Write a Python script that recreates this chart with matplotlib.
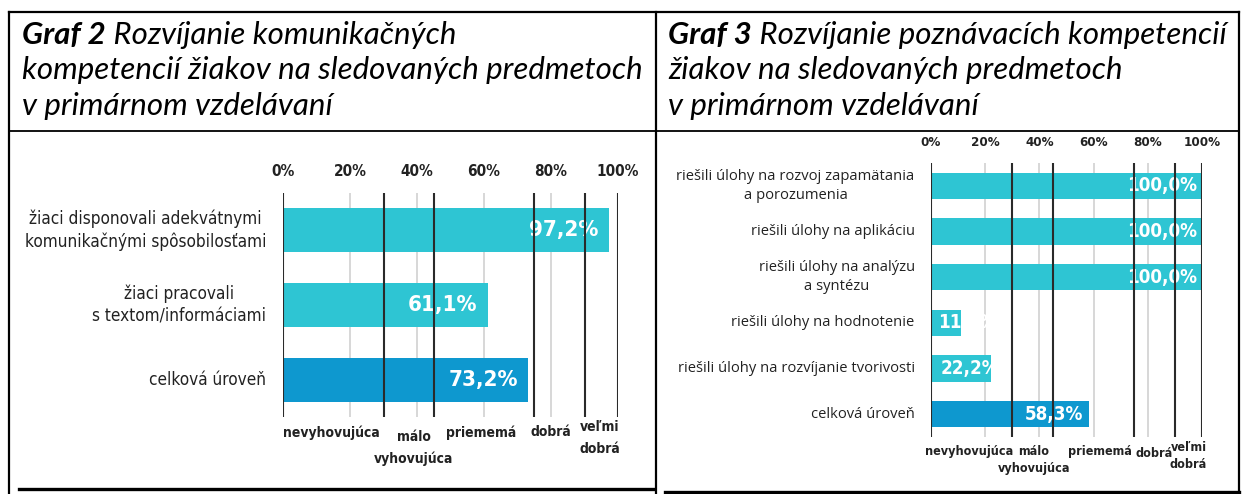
import matplotlib
matplotlib.use("Agg")
import matplotlib.pyplot as plt
from matplotlib.lines import Line2D

#----- Data -----
titles_bold = [ "Graf 2", "Graf 3" ]
titles_lines = [
	[ " Rozvíjanie komunikačných", "kompetencií žiakov na sledovaných predmetoch", "v primárnom vzdelávaní" ],
	[ " Rozvíjanie poznávacích kompetencií", "žiakov na sledovaných predmetoch", "v primárnom vzdelávaní" ],
]

left_categories = [ "žiaci disponovali adekvátnymi\nkomunikačnými spôsobilosťami",
					"žiaci pracovali\ns textom/informáciami",
					"celková úroveň" ]
left_values = [ 97.2, 61.1, 73.2 ]

right_categories = [ "riešili úlohy na rozvoj zapamätania\na porozumenia",
					 "riešili úlohy na aplikáciu",
					 "riešili úlohy na analýzu\na syntézu",
					 "riešili úlohy na hodnotenie",
					 "riešili úlohy na rozvíjanie tvorivosti",
					 "celková úroveň" ]
right_values = [ 100.0, 100.0, 100.0, 11.1, 22.2, 58.3 ]

tick_values = [ 0, 20, 40, 60, 80, 100 ]
grid_values = [ 20, 40, 60, 80 ]
band_edges = [ 0, 30, 45, 75, 90, 100 ]
band_labels = [ "nevyhovujúca", "málo\nvyhovujúca", "priememá", "dobrá", "veľmi\ndobrá" ]

#----- Style -----
W, H = 1255, 494
c_light = "#2ec5d3"
c_dark = "#0e98cf"
narrow = [ "DejaVu Sans" ]
title_font = [ "Lato", "DejaVu Sans" ]

fig = plt.figure( figsize=(W/100, H/100), dpi=100 )
renderer = fig.canvas.get_renderer()


def px_axes( x0, y0, x1, y1 ):
	# pixel box (top-left origin) -> figure axes
	return fig.add_axes( [ x0/W, 1 - y1/H, (x1-x0)/W, (y1-y0)/H ] )


def draw_chart( ax, cats, vals, bar_h, cat_fs, cat_font, cat_stretch, val_fs, tick_fs, band_fs,
				band_dx, band_dy, band_gap, val_pad, cat_x ):
	n = len( vals )
	colors = [ c_light ]*(n-1) + [ c_dark ]
	ax.set_xlim( 0, 100 )
	ax.set_ylim( n - 0.5, -0.5 )
	for g in grid_values:
		ax.axvline( g, color="#d4d4d4", lw=1.3, zorder=1 )
	ax.barh( range(n), vals, height=bar_h, color=colors, zorder=2 )
	for e in band_edges:
		ax.axvline( e, color="#2a2a2a", lw=1.5, zorder=4 )
	for i, v in enumerate( vals ):
		lbl = ("%.1f%%" % v).replace( ".", "," )
		if v < 30:
			ax.text( 2.5 if v < 15 else 3.5, i, lbl, ha="left", va="center", color="white", fontsize=val_fs,
					 fontweight="bold", family=narrow, fontstretch="condensed", zorder=3 )
		else:
			ax.text( v - val_pad, i, lbl, ha="right", va="center", color="white", fontsize=val_fs,
					 fontweight="bold", family=narrow, fontstretch="condensed", zorder=3 )
		ax.text( cat_x, i, cats[i], ha="right", va="center", multialignment="center",
				 fontsize=cat_fs, family=cat_font, fontstretch=cat_stretch, color="#222222",
				 linespacing=1.35, transform=ax.get_yaxis_transform() )
	ax.xaxis.tick_top()
	ax.set_xticks( tick_values )
	ax.set_xticklabels( [ "%d%%" % t for t in tick_values ], fontsize=tick_fs,
						fontweight="bold", family=narrow, fontstretch="condensed", color="#222222" )
	ax.tick_params( axis="x", length=0, pad=10 )
	ax.set_yticks( [] )
	for s in ax.spines.values():
		s.set_visible( False )
	# grade bands under the axis, one text per line
	for j, lbl in enumerate( band_labels ):
		mid = ( band_edges[j] + band_edges[j+1] ) / 2 + band_dx[j]
		for m, part in enumerate( lbl.split( "\n" ) ):
			ax.text( mid, band_dy[j] - m*band_gap, part, ha="center", va="top", fontsize=band_fs,
					 fontweight="bold", family=narrow, fontstretch="condensed", color="#222222",
					 transform=ax.get_xaxis_transform() )


#----- Left chart -----
axL = px_axes( 283, 193, 618, 417 )
draw_chart( axL, left_categories, left_values, 0.59, 12.3, narrow, "condensed", 16, 11, 10,
			[ -0.5, 1.5, -1, -2.5, -0.5 ], [ -0.04, -0.06, -0.04, -0.035, -0.015 ], 0.095, 3, -0.05 )

#----- Right chart -----
axR = px_axes( 931, 163, 1202, 437 )
draw_chart( axR, right_categories, right_values, 0.57, 10.6, [ "Open Sans", "DejaVu Sans" ], "normal",
			13.5, 9.5, 9, [ -1, 0.5, 2.5, 0, 0 ], [ -0.028, -0.028, -0.028, -0.035, -0.015 ], 0.063, 2, -0.06 )

#----- Titles -----
title_fs = 22.5
line_y = [ 35, 70, 106 ]
for k, x0 in enumerate( [ 22, 668 ] ):
	t = fig.text( x0/W, 1 - line_y[0]/H, titles_bold[k], fontsize=title_fs, fontweight="bold",
				  style="italic", family=title_font, va="center", ha="left" )
	wb = t.get_window_extent( renderer ).width
	for j, line in enumerate( titles_lines[k] ):
		xx = x0 + ( wb if j == 0 else 0 )
		fig.text( xx/W, 1 - line_y[j]/H, line, fontsize=title_fs, style="italic",
				  family=title_font, va="center", ha="left" )

#----- Table frame -----
def fline( xs, ys, lw ):
	fig.add_artist( Line2D( [ x/W for x in xs ], [ 1 - y/H for y in ys ], color="black", lw=lw ) )

fline( [ 9, 9 ], [ 12, 494 ], 1.6 )
fline( [ 656, 656 ], [ 12, 494 ], 1.6 )
fline( [ 1239, 1239 ], [ 12, 494 ], 1.6 )
fline( [ 9, 1239 ], [ 12, 12 ], 1.6 )
fline( [ 9, 1239 ], [ 131, 131 ], 1.3 )
fline( [ 19, 653 ], [ 489, 489 ], 2.4 )
fline( [ 665, 1239 ], [ 492, 492 ], 2.4 )

fig.savefig( "out.png", dpi=100 )
